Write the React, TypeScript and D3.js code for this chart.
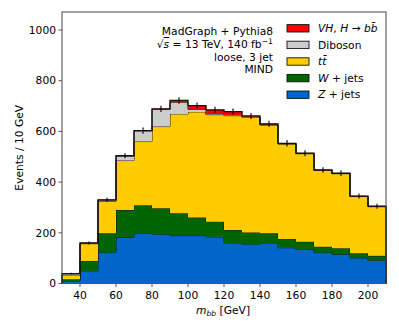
import React from 'react';
import * as d3 from 'd3';

// bin edges: 30..210 GeV in 10 GeV steps
const binLow = [30, 40, 50, 60, 70, 80, 90, 100, 110, 120, 130, 140, 150, 160, 170, 180, 190, 200];
const binWidth = 10;

// events per bin, per process
const zJets = [10, 50, 122, 182, 199, 194, 189, 189, 184, 159, 155, 159, 141, 135, 122, 115, 101, 91];
const wJets = [7, 39, 76, 108, 110, 103, 88, 71, 60, 52, 46, 39, 35, 30, 23, 24, 18, 18];
const ttbar = [16, 68, 127, 195, 251, 322, 392, 417, 422, 451, 455, 427, 374, 347, 301, 294, 224, 194];
const diboson = [5, 2, 4, 18, 42, 68, 46, 10, 3, 3, 2, 2, 2, 1, 1, 1, 1, 1];
const vhbb = [1, 1, 1, 1, 1, 2, 7, 15, 16, 13, 3, 3, 1, 1, 1, 1, 1, 1];
const statErr = [3, 6, 8, 10, 12, 12, 13, 12, 12, 12, 12, 12, 13, 12, 11, 11, 10, 10];

const xTicks = [40, 60, 80, 100, 120, 140, 160, 180, 200];
const yTicks = [0, 200, 400, 600, 800, 1000];

const processes = [
  { key: 'z', values: zJets, color: '#0066cc' },
  { key: 'w', values: wJets, color: '#006400' },
  { key: 'tt', values: ttbar, color: '#ffcc00' },
  { key: 'vv', values: diboson, color: '#cccccc' },
  { key: 'vh', values: vhbb, color: '#ff0000' },
];

const font = '"DejaVu Sans", sans-serif';
const fs = 10.7;

const App = () => {
  const width = 399;
  const height = 332;
  const plot = { left: 62, right: 386, top: 12, bottom: 283.5 };

  const x = d3.scaleLinear().domain([30, 210]).range([plot.left, plot.right]);
  const y = d3.scaleLinear().domain([0, 1071]).range([plot.bottom, plot.top]);

  const rows = binLow.map((lo, i) => {
    const r: any = { lo };
    processes.forEach(p => { r[p.key] = p.values[i]; });
    return r;
  });
  const stacked = d3.stack().keys(processes.map(p => p.key))(rows);

  // each bin contributes two points so the area becomes a step shape
  const area = d3.area<any>()
    .x(d => x(d.x))
    .y0(d => y(d.y0))
    .y1(d => y(d.y1));
  const outline = d3.line<any>().x(d => x(d.x)).y(d => y(d.y1));

  const layers = stacked.map((layer, li) => {
    const pts: any[] = [];
    layer.forEach((s, i) => {
      pts.push({ x: binLow[i], y0: s[0], y1: s[1] });
      pts.push({ x: binLow[i] + binWidth, y0: s[0], y1: s[1] });
    });
    return (
      <g key={processes[li].key}>
        <path d={area(pts) || ''} fill={processes[li].color} stroke="none" />
        <path
          d={outline([{ x: binLow[0], y1: 0 }, ...pts, { x: 210, y1: 0 }]) || ''}
          fill="none"
          stroke="#111"
          strokeWidth={li === processes.length - 1 ? 1.3 : 0.9}
        />
      </g>
    );
  });

  const totals = binLow.map((_, i) => processes.reduce((a, p) => a + p.values[i], 0));

  const errBars = totals.map((t, i) => (
    <line
      key={i}
      x1={x(binLow[i] + binWidth / 2)}
      x2={x(binLow[i] + binWidth / 2)}
      y1={y(t - statErr[i])}
      y2={y(t + statErr[i])}
      stroke="#000"
      strokeWidth={1.1}
    />
  ));

  const legendItems = [
    { color: '#ff0000', label: (
      <>
        <tspan fontStyle="italic">VH</tspan>, <tspan fontStyle="italic">H</tspan> → <tspan fontStyle="italic">b</tspan><tspan fontStyle="italic">b̄</tspan>
      </>
    ) },
    { color: '#cccccc', label: <>Diboson</> },
    { color: '#ffcc00', label: <tspan fontStyle="italic">tt̄</tspan> },
    { color: '#006400', label: <><tspan fontStyle="italic">W</tspan> + jets</> },
    { color: '#0066cc', label: <><tspan fontStyle="italic">Z</tspan> + jets</> },
  ];

  const legendX = 287;
  const legendY0 = 28.3;
  const legendDy = 16.6;

  const annX = 273;
  const axisColor = '#555';

  return (
    <svg width={width} height={height} style={{ position: 'absolute', left: 0, top: 0, background: '#fff' }}
      fontFamily={font} fontSize={fs}>
      <rect x={0} y={0} width={width} height={height} fill="#fff" />
      <g>{layers}</g>
      <g>{errBars}</g>

      {/* frame */}
      <rect x={plot.left} y={plot.top} width={plot.right - plot.left} height={plot.bottom - plot.top}
        fill="none" stroke={axisColor} strokeWidth={1.1} />

      {/* x axis */}
      {xTicks.map(t => (
        <g key={'x' + t}>
          <line x1={x(t)} x2={x(t)} y1={plot.bottom} y2={plot.bottom + 3.5} stroke={axisColor} />
          <text x={x(t)} y={plot.bottom + 15.5} textAnchor="middle" fill="#000">{t}</text>
        </g>
      ))}
      <text x={223} y={314} textAnchor="middle" fill="#000">
        <tspan fontStyle="italic">m</tspan><tspan fontStyle="italic" fontSize={fs * 0.72} dy={2}>bb</tspan><tspan dy={-2}> [GeV]</tspan>
      </text>

      {/* y axis */}
      {yTicks.map(t => (
        <g key={'y' + t}>
          <line x1={plot.left - 3.5} x2={plot.left} y1={y(t)} y2={y(t)} stroke={axisColor} />
          <text x={plot.left - 6} y={y(t)} dy="0.35em" textAnchor="end" fill="#000">{t}</text>
        </g>
      ))}
      <text transform={`translate(23,${(plot.top + plot.bottom) / 2}) rotate(-90)`} textAnchor="middle" fill="#000">
        Events / 10 GeV
      </text>

      {/* annotation */}
      <g textAnchor="end" fill="#000">
        <text x={annX} y={34.5}>MadGraph + Pythia8</text>
        <text x={annX} y={48}>
          √<tspan fontStyle="italic" textDecoration="overline">s</tspan> = 13 TeV, 140 fb<tspan fontSize={fs * 0.72} dy={-4}>−1</tspan>
        </text>
        <text x={annX} y={60.5}>loose, 3 jet</text>
        <text x={annX} y={73}>MIND</text>
      </g>

      {/* legend */}
      {legendItems.map((it, i) => (
        <g key={i}>
          <rect x={legendX} y={legendY0 + i * legendDy - 3.7} width={22} height={7.4}
            fill={it.color} stroke="#111" strokeWidth={0.9} />
          <text x={legendX + 31} y={legendY0 + i * legendDy} dy="0.35em" fill="#000">{it.label}</text>
        </g>
      ))}
    </svg>
  );
};

export default App;
